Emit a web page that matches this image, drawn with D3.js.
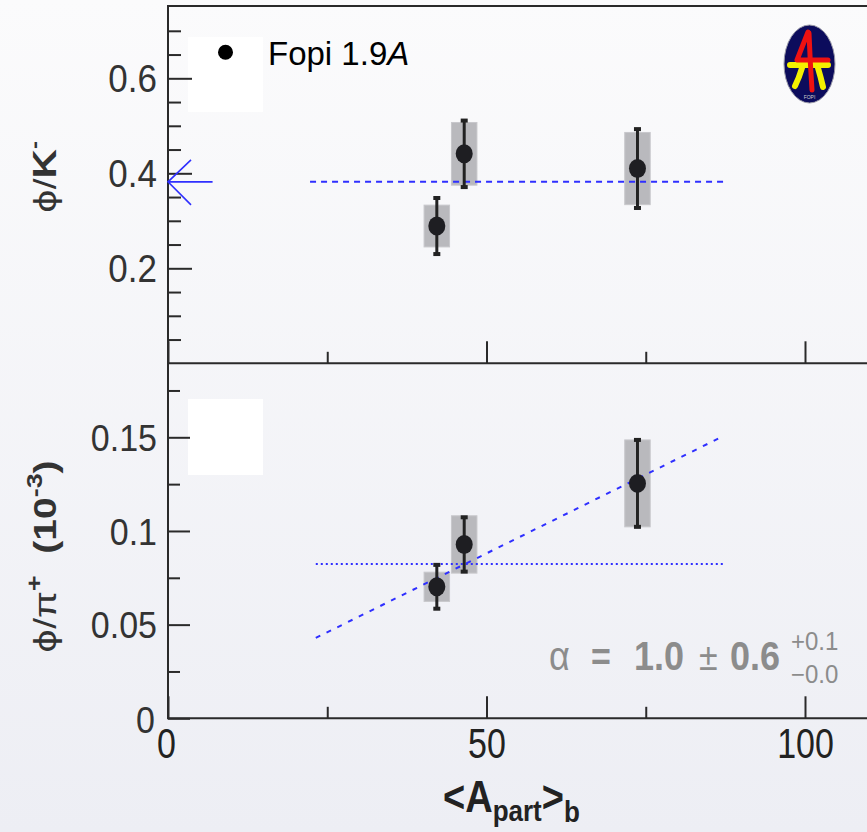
<!DOCTYPE html>
<html>
<head>
<meta charset="utf-8">
<script src="https://cdn.jsdelivr.net/npm/d3@7"></script>
<style>
  body { margin: 0; background: #f3f3f7; }
  svg { display: block; }
</style>
</head>
<body>
<div id="chart"></div>
<script>
// data
var apart = [42.2, 46.5, 73.7];
var phiK = [0.289, 0.441, 0.410];
var phiKStat = [0.059, 0.070, 0.083];
var phiKSys = [0.044, 0.066, 0.076];
var phiPi = [0.0702, 0.0928, 0.1254];
var phiPiStat = [0.0117, 0.0145, 0.0232];
var phiPiSys = [0.0078, 0.0153, 0.0232];
var meanK = 0.382, meanKRange = [22.3, 87.4];
var meanPi = 0.0823, meanPiRange = [23.2, 87.1];
var fitX = [23.2, 87.1], fitY = [0.0429, 0.1505];
var xTicks = [0, 50, 100], xMinor = [25, 75];
var yTopTicks = [0.2, 0.4, 0.6], yTopMinor = [0.05, 0.1, 0.15, 0.25, 0.3, 0.35, 0.45, 0.5, 0.55, 0.65, 0.7];
var yBotTicks = [0, 0.05, 0.1, 0.15], yBotMinor = [0.025, 0.075, 0.125, 0.175];

var W = 867, H = 832;
var svg = d3.select("#chart").append("svg").attr("width", W).attr("height", H)
  .style("font-family", "Arial, 'Liberation Sans', sans-serif");

var defs = svg.append("defs");
var grad = defs.append("linearGradient").attr("id", "bg").attr("x1", 0).attr("y1", 0).attr("x2", 0).attr("y2", 1);
grad.append("stop").attr("offset", "0%").attr("stop-color", "#fbfbfc");
grad.append("stop").attr("offset", "100%").attr("stop-color", "#edeef4");
svg.append("rect").attr("width", W).attr("height", H).attr("fill", "url(#bg)");

var x = d3.scaleLinear().domain([0, 100]).range([168, 805]);
var yTop = d3.scaleLinear().domain([0, 0.6]).range([363.3, 78.3]);
var yBot = d3.scaleLinear().domain([0, 0.15]).range([718.3, 437.3]);

var ink = "#2a2a2a", blue = "#2f2fff", gray = "#8c8c8c";

// legend / placeholder boxes
svg.append("rect").attr("x", 188).attr("y", 37).attr("width", 75).attr("height", 75).attr("fill", "#fff");
svg.append("rect").attr("x", 188).attr("y", 399).attr("width", 75).attr("height", 76).attr("fill", "#fff");

function styleAxis(g) {
  g.select(".domain").remove();
  g.selectAll("line").attr("stroke", ink).attr("stroke-width", 2);
}

// y axes
svg.append("g").attr("transform", "translate(168,0)")
  .call(d3.axisLeft(yTop).tickValues(yTopMinor).tickSize(-13).tickFormat(""))
  .call(styleAxis);
svg.append("g").attr("transform", "translate(168,0)")
  .call(d3.axisLeft(yTop).tickValues(yTopTicks).tickSize(-24).tickFormat(d3.format(".1f")))
  .call(styleAxis)
  .call(function (g) {
    g.selectAll("text").attr("x", 0).attr("dy", null)
      .attr("transform", "translate(-11,13.3) scale(1,1.1)")
      .attr("font-size", 35).attr("fill", "#333").attr("font-family", "Arial, 'Liberation Sans', sans-serif");
  });
svg.append("g").attr("transform", "translate(168,0)")
  .call(d3.axisLeft(yBot).tickValues(yBotMinor).tickSize(-12).tickFormat(""))
  .call(styleAxis);
svg.append("g").attr("transform", "translate(168,0)")
  .call(d3.axisLeft(yBot).tickValues(yBotTicks).tickSize(-22).tickFormat(function (d) { return d === 0 ? "0" : d3.format("")(d); }))
  .call(styleAxis)
  .call(function (g) {
    g.selectAll("text").attr("x", 0).attr("dy", null)
      .attr("transform", function (d) { return d === 0 ? "translate(-13,14) scale(1,1.1)" : "translate(-11,13.3) scale(1,1.1)"; })
      .attr("font-size", 34).attr("fill", "#333").attr("font-family", "Arial, 'Liberation Sans', sans-serif");
  });

// x axes (ticks point inward) on both panels
[363.3, 718.3].forEach(function (yy, i) {
  svg.append("g").attr("transform", "translate(0," + yy + ")")
    .call(d3.axisBottom(x).tickValues(xMinor).tickSize(-11.5).tickFormat(""))
    .call(styleAxis);
  svg.append("g").attr("transform", "translate(0," + yy + ")")
    .call(d3.axisBottom(x).tickValues(xTicks).tickSize(-22).tickFormat(i === 1 ? d3.format("d") : ""))
    .call(styleAxis)
    .call(function (g) {
      g.selectAll("text").attr("y", 0).attr("dy", null)
        .attr("transform", function (d) { return "translate(" + (d === 0 ? -2 : 0) + ",40) scale(1,1.25)"; })
        .attr("font-size", 34).attr("fill", "#222").attr("font-family", "Arial, 'Liberation Sans', sans-serif");
    });
});

// frame
svg.append("path").attr("d", "M" + W + ",6 H168 V718.3 H" + W + " M168,363.3 H" + W)
  .attr("fill", "none").attr("stroke", ink).attr("stroke-width", 2);

// panel contents
function drawPanel(y, vals, stat, sys) {
  var g = svg.append("g");
  g.selectAll("rect.sys").data(apart).enter().append("rect")
    .attr("x", function (d) { return x(d - 2); })
    .attr("width", function (d) { return x(d + 2) - x(d - 2); })
    .attr("y", function (d, i) { return y(vals[i] + sys[i]); })
    .attr("height", function (d, i) { return y(vals[i] - sys[i]) - y(vals[i] + sys[i]); })
    .attr("fill", "#b9b9bd").attr("stroke", "#c8c8cc").attr("stroke-width", 1);
  return g;
}
function drawPoints(g, y, vals, stat) {
  g.selectAll("line.err").data(apart).enter().append("line")
    .attr("x1", function (d) { return x(d); }).attr("x2", function (d) { return x(d); })
    .attr("y1", function (d, i) { return y(vals[i] + stat[i]); })
    .attr("y2", function (d, i) { return y(vals[i] - stat[i]); })
    .attr("stroke", "#222").attr("stroke-width", 3);
  [1, -1].forEach(function (s) {
    g.selectAll(null).data(apart).enter().append("rect")
      .attr("x", function (d) { return x(d) - 3.5; }).attr("width", 7)
      .attr("y", function (d, i) { return y(vals[i] + s * stat[i]) - 2; }).attr("height", 4)
      .attr("fill", "#222");
  });
  g.selectAll("ellipse").data(apart).enter().append("ellipse")
    .attr("cx", function (d) { return x(d); })
    .attr("cy", function (d, i) { return y(vals[i]); })
    .attr("rx", 8.5).attr("ry", 9.5).attr("fill", "#1e1e22");
}

var gTop = drawPanel(yTop, phiK, phiKStat, phiKSys);
gTop.append("line").attr("x1", x(meanKRange[0])).attr("x2", x(meanKRange[1]))
  .attr("y1", yTop(meanK)).attr("y2", yTop(meanK))
  .attr("stroke", blue).attr("stroke-width", 2).attr("stroke-dasharray", "6,5");
drawPoints(gTop, yTop, phiK, phiKStat);

// arrow at mean on the left
var ay = yTop(meanK);
svg.append("path")
  .attr("d", "M" + x(7) + "," + ay + " H" + x(0) + " M" + (x(0) + 23) + "," + (ay - 22) + " L" + x(0) + "," + ay + " L" + (x(0) + 23) + "," + (ay + 23))
  .attr("fill", "none").attr("stroke", blue).attr("stroke-width", 1.6);

var gBot = drawPanel(yBot, phiPi, phiPiStat, phiPiSys);
gBot.append("line").attr("x1", x(meanPiRange[0])).attr("x2", x(meanPiRange[1]))
  .attr("y1", yBot(meanPi)).attr("y2", yBot(meanPi))
  .attr("stroke", blue).attr("stroke-width", 2).attr("stroke-dasharray", "2,3");
gBot.append("line").attr("x1", x(fitX[0])).attr("x2", x(fitX[1]))
  .attr("y1", yBot(fitY[0])).attr("y2", yBot(fitY[1]))
  .attr("stroke", blue).attr("stroke-width", 2).attr("stroke-dasharray", "5,7");
drawPoints(gBot, yBot, phiPi, phiPiStat);

// legend
svg.append("circle").attr("cx", 225.5).attr("cy", 52.3).attr("r", 7.5).attr("fill", "#000");
var leg = svg.append("text").attr("x", 268).attr("y", 65).attr("font-size", 33).attr("fill", "#000");
leg.append("tspan").text("Fopi 1.9");
leg.append("tspan").attr("font-style", "italic").text("A");

// y titles (rotated, stretched along their length)
var phiFont = "'DejaVu Sans', Arial, sans-serif";
var t1 = svg.append("text").attr("transform", "translate(56,213) rotate(-90) scale(1.2,1)")
  .attr("font-size", 32).attr("fill", "#333");
t1.append("tspan").attr("font-family", phiFont).attr("font-size", 30).text("\u03d5");
t1.append("tspan").text("/");
t1.append("tspan").attr("font-weight", "bold").attr("font-size", 34).text("K");
t1.append("tspan").attr("font-size", 20).attr("dy", -15).attr("font-weight", "bold").text("-");

var t2 = svg.append("text").attr("transform", "translate(56,653) rotate(-90) scale(1.22,1)")
  .attr("font-size", 32).attr("fill", "#333");
t2.append("tspan").attr("font-family", phiFont).attr("font-size", 30).text("\u03d5");
t2.append("tspan").text("/\u03c0");
t2.append("tspan").attr("font-size", 22).attr("dy", -14).attr("font-weight", "bold").text("+");
t2.append("tspan").attr("dy", 14).attr("font-weight", "bold").text("\u00a0\u00a0(10");
t2.append("tspan").attr("font-size", 22).attr("dy", -14).attr("font-weight", "bold").text("-3");
t2.append("tspan").attr("dy", 14).attr("font-weight", "bold").text(")");

// x title
var xt = svg.append("text").attr("transform", "translate(443,812) scale(1,1.17)")
  .attr("font-size", 38).attr("font-weight", "bold").attr("fill", "#222");
xt.append("tspan").text("<A");
xt.append("tspan").attr("font-size", 26).attr("dy", 7.7).text("part");
xt.append("tspan").attr("dy", -7.7).text(">");
xt.append("tspan").attr("font-size", 26).attr("dy", 8.5).text("b");

// alpha annotation
var ann = svg.append("g").attr("fill", gray);
function annText(tx, ty, size, weight, str, sy) {
  ann.append("text").attr("transform", "translate(" + tx + "," + ty + ") scale(1," + (sy || 1.12) + ")")
    .attr("font-size", size).attr("font-weight", weight).text(str);
}
annText(549, 670, 36, "normal", "\u03b1");
annText(591, 670, 34, "bold", "=");
annText(634, 670, 36, "bold", "1.0");
annText(699, 670, 34, "normal", "\u00b1");
annText(730, 670, 36, "bold", "0.6");
annText(791, 650, 24, "normal", "+0.1", 1.05);
annText(791, 683, 24, "normal", "\u22120.0", 1.05);

// FOPI logo
var logo = svg.append("g");
logo.append("ellipse").attr("cx", 809.5).attr("cy", 64).attr("rx", 25.5).attr("ry", 39)
  .attr("fill", "#0c0c5c").attr("stroke", "#9a9aa8").attr("stroke-width", 1);
logo.append("path").attr("d", "M790,65 H828 M802,68 Q799,78 795,86 M818,68 Q821,78 823,87")
  .attr("fill", "none").attr("stroke", "#f4f000").attr("stroke-width", 6).attr("stroke-linecap", "round");
logo.append("path").attr("d", "M808,32 L797,60 H828 M809,33 Q810,60 812,90")
  .attr("fill", "none").attr("stroke", "#ee1111").attr("stroke-width", 5).attr("stroke-linecap", "round").attr("stroke-linejoin", "round");
logo.append("text").attr("x", 809.5).attr("y", 99).attr("text-anchor", "middle")
  .attr("font-size", 5).attr("fill", "#ccc").text("FOPI");
</script>
</body>
</html>
